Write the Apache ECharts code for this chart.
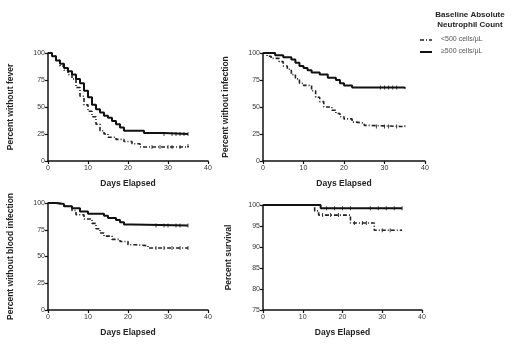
<!DOCTYPE html>
<html>
<head>
<meta charset="utf-8">
<script src="https://cdn.jsdelivr.net/npm/echarts@6/dist/echarts.min.js"></script>
<style>
  html, body { margin: 0; padding: 0; background: #fff; }
  #main { width: 520px; height: 347px; }
</style>
</head>
<body>
<div id="main"></div>
<script>
// Kaplan-Meier curves, [day, percent] after each step
var feverLow = [[0,100],[1,97],[2,93],[3,88],[4,84],[5,80],[6,76],[7,68],[8,60],[9,52],[10,46],[11,41],[12,34],[13,28],[14,25],[15,22],[17,20],[19,18],[21,16],[23,13],[35,13],[35,14]];
var feverHigh = [[0,100],[1,97],[2,93],[3,90],[4,86],[5,83],[6,80],[7,76],[8,72],[9,65],[10,59],[11,52],[12,48],[13,45],[14,42],[15,40],[16,37],[17,34],[18,31],[19,28],[24,26],[29,25],[35,25]];
var infLow = [[0,100],[1,97],[2,95],[4,92],[5,88],[6,85],[7,80],[8,76],[9,72],[10,70],[12,65],[13,59],[14,55],[15,50],[17,47],[18,44],[19,41],[20,39],[22,36],[23,35],[25,33],[26,32],[34,32],[35,33]];
var infHigh = [[0,100],[3,98],[5,96],[7,94],[8,91],[9,88],[10,86],[11,84],[12,82],[14,80],[16,77],[18,75],[19,72],[20,70],[22,68],[34,68],[35,67]];
var bloodLow = [[0,100],[2,99],[4,97],[6,93],[7,89],[9,85],[11,81],[12,76],[13,72],[14,69],[16,66],[18,64],[20,61],[22,60],[25,58],[35,58]];
var bloodHigh = [[0,100],[2,99],[4,97],[6,95],[8,92],[10,90],[14,88],[15,86],[17,84],[18,82],[19,80],[21,79],[35,79]];
var survLow = [[0,100],[13,98.6],[14,97.6],[22,95.7],[28,94],[35,94]];
var survHigh = [[0,100],[14.5,99.2],[35,99.2]];

// censored observations (tick marks)
var feverLowCens = [[26,13],[28,13],[30,13],[31,13],[33,13],[35,14]];
var feverHighCens = [[29,25],[31,25],[32,25],[33,25],[34,25],[35,25]];
var infLowCens = [[28,32],[30,32],[31,32],[33,32]];
var infHighCens = [[29,68],[30,68],[31,68],[32,68],[33,68]];
var bloodLowCens = [[27,58],[29,58],[31,58],[33,58],[35,58]];
var bloodHighCens = [[27,79],[29,79],[30,79],[32,79],[33,79],[35,79]];
var survLowCens = [[15,97.6],[17,97.6],[19,97.6],[23,95.7],[25,95.7],[26,95.7],[30,94],[32,94]];
var survHighCens = [[16,99.2],[18,99.2],[20,99.2],[22,99.2],[27,99.2],[29,99.2],[31,99.2],[33,99.2],[35,99.2]];

var lowName = '<500 cells/µL';
var highName = '≥500 cells/µL';

var font = 'Liberation Sans, Arial, sans-serif';
var lowStyle = { stroke: '#222', lineWidth: 1.6, lineDash: [4, 2, 1, 2] };
var highStyle = { stroke: '#111', lineWidth: 2 };
var chart = echarts.init(document.getElementById('main'));

function xAxis(idx) {
  return {
    type: 'value', gridIndex: idx, min: 0, max: 40, interval: 10,
    name: 'Days Elapsed', nameLocation: 'middle', nameGap: 18,
    nameTextStyle: { fontFamily: font, fontWeight: 'bold', fontSize: 8.5, color: '#222' },
    axisLine: { lineStyle: { color: '#111', width: 1.5 } },
    axisTick: { show: true, length: 3, lineStyle: { color: '#111', width: 1.2 } },
    axisLabel: { fontFamily: font, fontSize: 7, color: '#333', margin: 4 },
    splitLine: { show: false }
  };
}
function yAxis(idx, name, min, interval, gap) {
  return {
    type: 'value', gridIndex: idx, min: min, max: 100, interval: interval,
    name: name, nameLocation: 'middle', nameGap: gap, nameRotate: 90,
    nameTextStyle: { fontFamily: font, fontWeight: 'bold', fontSize: 8.5, color: '#222' },
    axisLine: { show: true, lineStyle: { color: '#111', width: 1.5 } },
    axisTick: { show: true, length: 3, lineStyle: { color: '#111', width: 1.2 } },
    axisLabel: { fontFamily: font, fontSize: 7, color: '#333', margin: 3 },
    splitLine: { show: false }
  };
}
function curve(name, idx, data, low) {
  return {
    name: name, type: 'line', xAxisIndex: idx, yAxisIndex: idx,
    data: data, step: 'end', symbol: 'none', silent: true,
    itemStyle: { color: '#111' },
    lineStyle: low
      ? { color: '#222', width: 1.6, type: [4, 2, 1, 2] }
      : { color: '#111', width: 2 }
  };
}
function cens(idx, data) {
  return {
    type: 'scatter', xAxisIndex: idx, yAxisIndex: idx, data: data,
    symbol: 'rect', symbolSize: [1, 4], silent: true,
    itemStyle: { color: '#111' }
  };
}

chart.setOption({
  animation: false,
  backgroundColor: '#fff',
  grid: [
    { left: 48, top: 53, width: 160, height: 108 },
    { left: 263, top: 53, width: 162, height: 108 },
    { left: 48, top: 203, width: 160, height: 107 },
    { left: 263, top: 205, width: 159, height: 105 }
  ],
  xAxis: [xAxis(0), xAxis(1), xAxis(2), xAxis(3)],
  yAxis: [
    yAxis(0, 'Percent without fever', 0, 25, 33),
    yAxis(1, 'Percent without infection', 0, 25, 33),
    yAxis(2, 'Percent without blood infection', 0, 25, 33),
    yAxis(3, 'Percent survival', 75, 5, 30)
  ],
  graphic: [
    { type: 'text', x: 470, y: 10, silent: true,
      style: { text: 'Baseline Absolute\nNeutrophil Count', align: 'center',
        font: 'bold 8px ' + font, lineHeight: 10, fill: '#222' } },
    { type: 'line', shape: { x1: 420, y1: 40, x2: 432, y2: 40 }, style: lowStyle, silent: true },
    { type: 'line', shape: { x1: 420, y1: 52, x2: 432, y2: 52 }, style: highStyle, silent: true },
    { type: 'text', x: 441, y: 36, silent: true,
      style: { text: lowName, font: '7px ' + font, fill: '#555' } },
    { type: 'text', x: 441, y: 48, silent: true,
      style: { text: highName, font: '7px ' + font, fill: '#555' } }
  ],
  series: [
    curve(lowName, 0, feverLow, true),
    curve(highName, 0, feverHigh, false),
    curve(lowName, 1, infLow, true),
    curve(highName, 1, infHigh, false),
    curve(lowName, 2, bloodLow, true),
    curve(highName, 2, bloodHigh, false),
    curve(lowName, 3, survLow, true),
    curve(highName, 3, survHigh, false),
    cens(0, feverLowCens), cens(0, feverHighCens),
    cens(1, infLowCens), cens(1, infHighCens),
    cens(2, bloodLowCens), cens(2, bloodHighCens),
    cens(3, survLowCens), cens(3, survHighCens)
  ]
});
</script>
</body>
</html>
